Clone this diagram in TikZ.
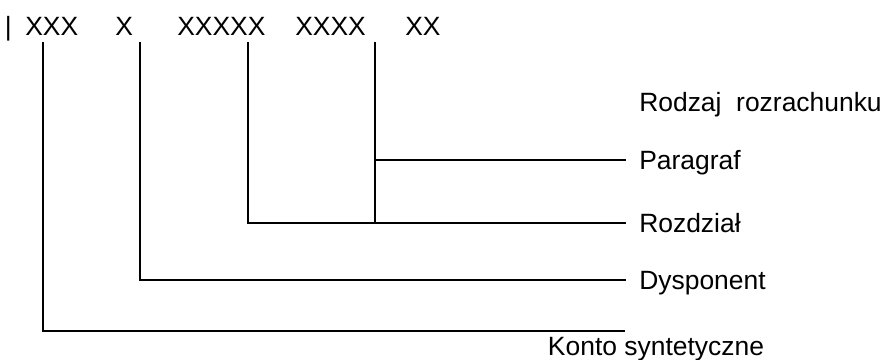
\documentclass[tikz,border=0pt]{standalone}
\usepackage{fontspec}
\setmainfont{Liberation Sans}
\usepackage{tikz}
\usetikzlibrary{positioning}
\tikzset{
  code/.style={anchor=base west, inner sep=0pt, font=\fontsize{18.8}{22}\selectfont},
  lbl/.style={anchor=west, inner xsep=0.35cm, inner ysep=0pt, text height=13.5pt,
              text depth=0pt, font=\fontsize{18.8}{22}\selectfont},
  lead/.style={line width=1.3pt, line cap=rect},
}

\begin{document}
\begin{tikzpicture}[x=0.025cm, y=-0.025cm]
  \useasboundingbox (0,0) rectangle (887,360);

  % Account number pattern
  \node[code] (bar)   at (4.5,36) {|};
  \node[code] (xxx)   at (25,36)  {XXX};
  \node[code] (x)     at (115,36) {X};
  \node[code] (xxxxx) at (177,36) {XXXXX};
  \node[code] (xxxx)  at (295,36) {XXXX};
  \node[code] (xx)    at (405,36) {XX};

  % Lead tops under the groups
  \coordinate (s1) at (43,43);
  \coordinate (s2) at (140,43);
  \coordinate (s3) at (248,43);
  \coordinate (s4) at (375,43);

  % Labels
  \node[lbl] (rodzaj) at (625,102) {Rodzaj\ \ rozrachunku};
  \node[lbl] (para)   at (625,160) {Paragraf};
  \node[lbl] (rozd)   at (625,223) {Rozdział};
  \node[lbl] (dysp)   at (625,280) {Dysponent};
  \coordinate (kend) at (624,331);
  \node[anchor=north, inner sep=0pt, text height=13.5pt,
        font=\fontsize{18.8}{22}\selectfont] (konto) at (656,336) {Konto syntetyczne};

  % Leads
  \draw[lead] (s4) -- (s4 |- rozd.west);
  \draw[lead] (s4 |- para.west) -- (para.west);
  \draw[lead] (s3) |- (rozd.west);
  \draw[lead] (s2) |- (dysp.west);
  \draw[lead] (s1) |- (kend);

\end{tikzpicture}
\end{document}
